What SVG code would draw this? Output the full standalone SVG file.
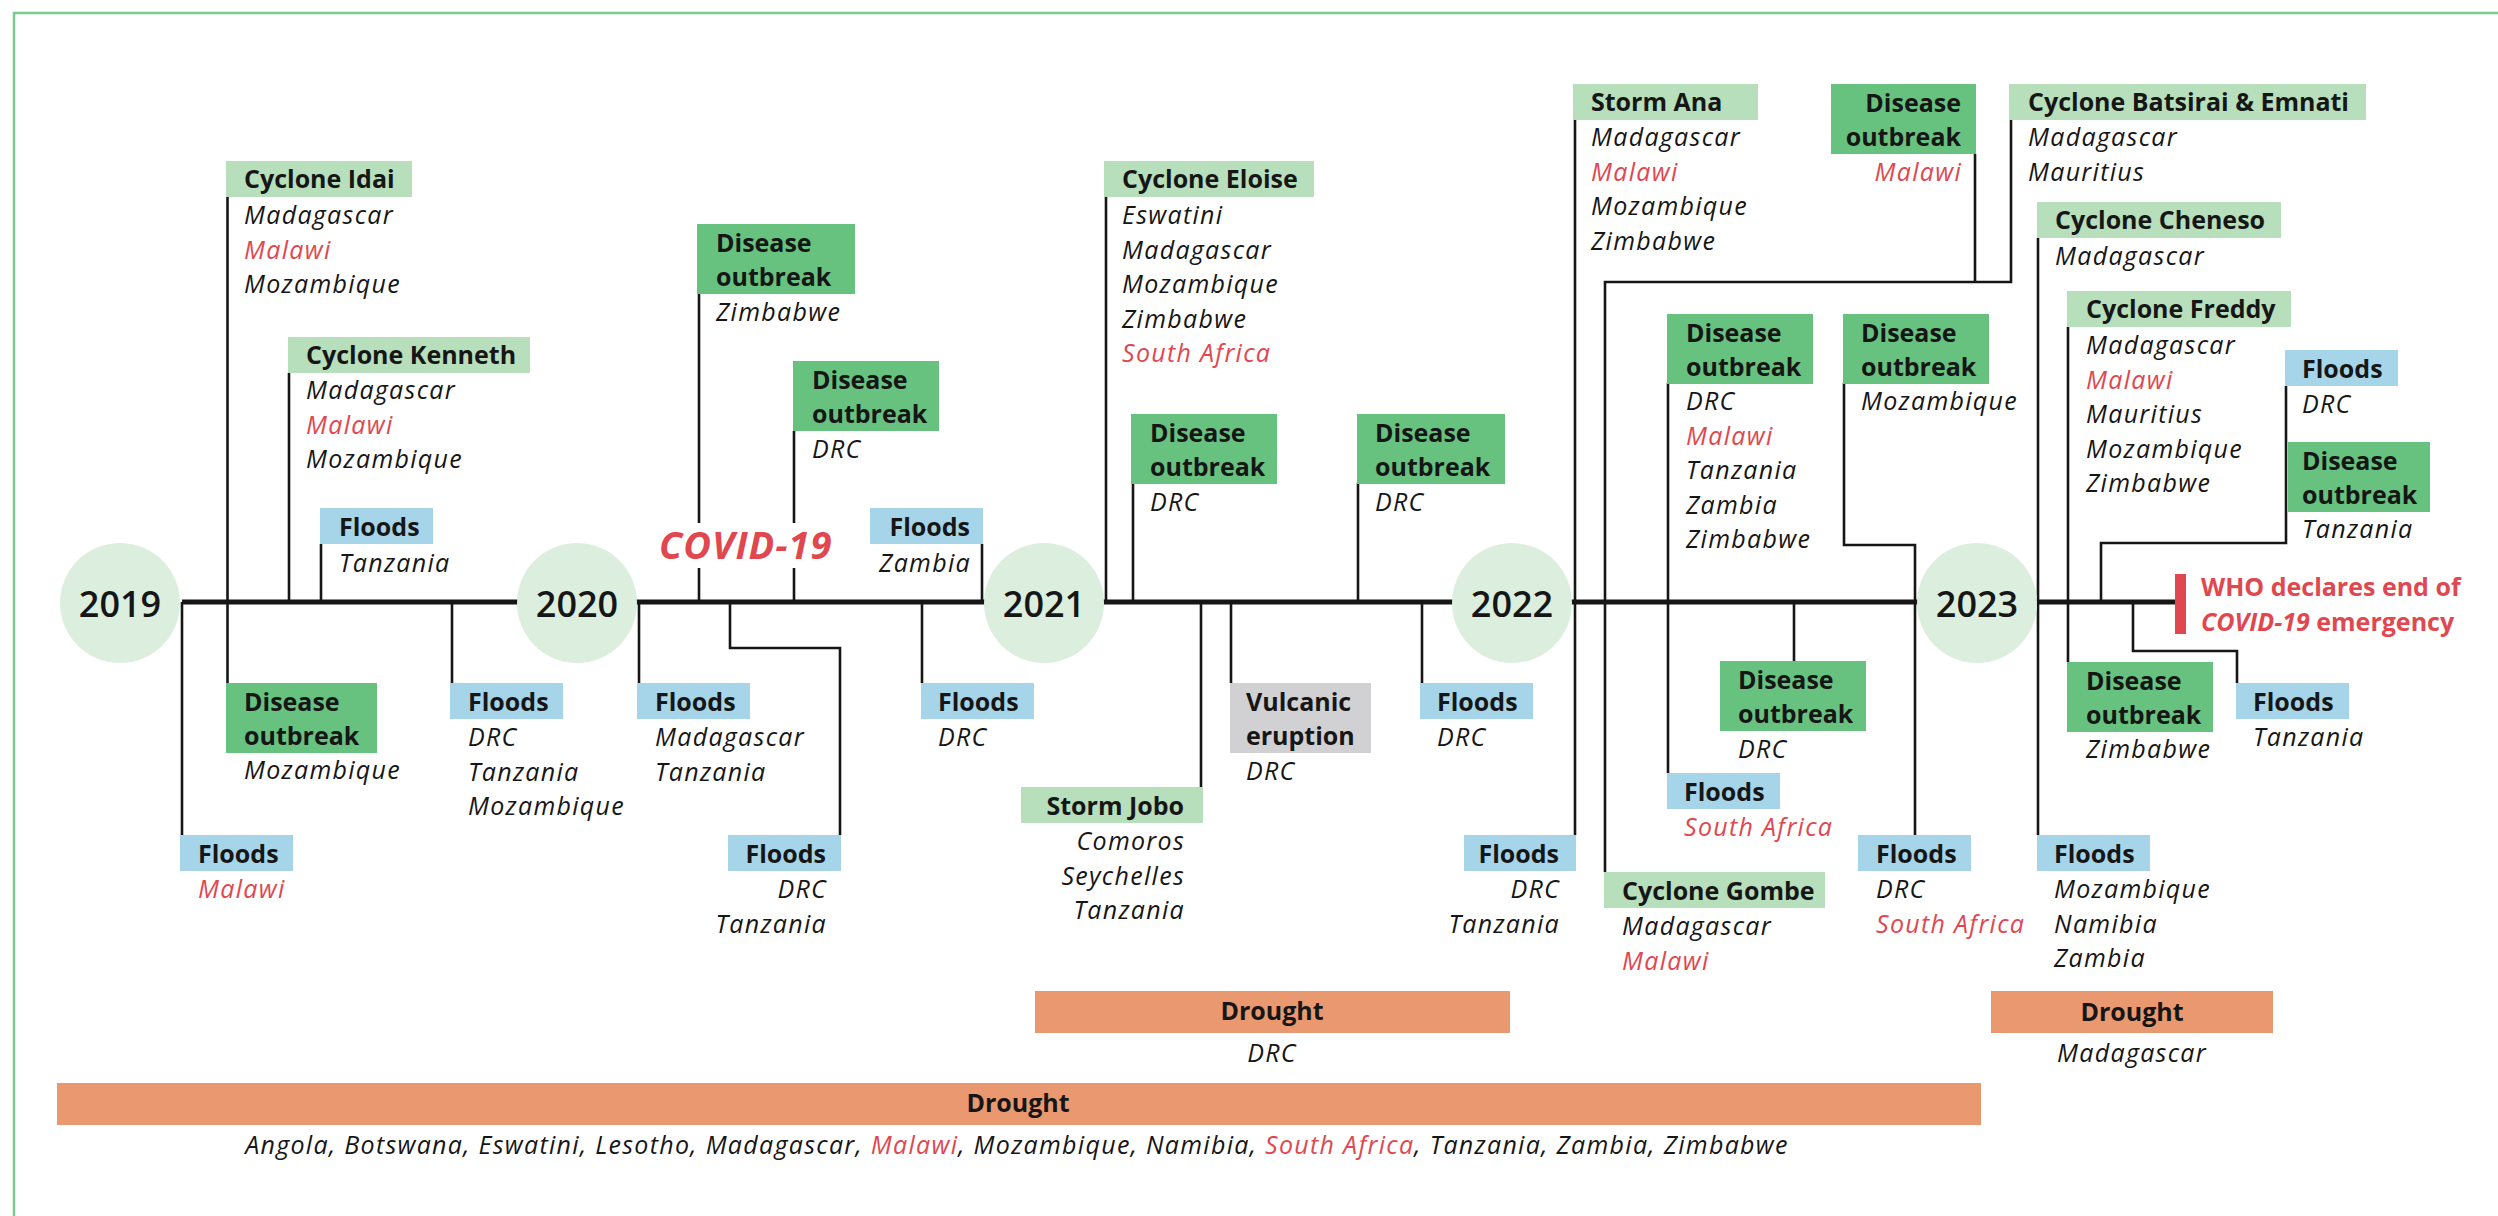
<svg xmlns="http://www.w3.org/2000/svg" width="2498" height="1216" viewBox="0 0 2498 1216">
<style>
  .cy{fill:#b8dfbb}.dz{fill:#67c27f}.fl{fill:#a6d5ea}.vo{fill:#d1d1d3}.dr{fill:#e9986f}
  text{fill:#161616;font-family:"Open Sans","Noto Sans",sans-serif}
  .t{font-size:25px;font-weight:700}
  .c{font-size:25px;font-style:italic;letter-spacing:1.3px}
  .e{text-anchor:end}.m{text-anchor:middle}
  .r{fill:#e0474f}
  .yr{font-size:36px;font-weight:600;text-anchor:middle}
  .cn{fill:none;stroke:#161616;stroke-width:2.6}
</style>
<rect width="2498" height="1216" fill="#fff"/>
<path d="M14,1216 V13 H2498" fill="none" stroke="#7ccb8e" stroke-width="2.5"/>

<g id="connectors" class="cn">
  <path d="M182,602 H2175" stroke-width="5"/>
  <path d="M227.5,197 V683"/>
  <path d="M289,373 V602"/>
  <path d="M321,544 V602"/>
  <path d="M182,602 V835"/>
  <path d="M452,602 V683"/>
  <path d="M639,602 V683"/>
  <path d="M699,294 V523 M699,568 V602"/>
  <path d="M794,431 V523 M794,568 V602"/>
  <path d="M982,544 V602"/>
  <path d="M922,602 V683"/>
  <path d="M730,602 V648 H840 V835"/>
  <path d="M1106,197 V602"/>
  <path d="M1133,483 V602"/>
  <path d="M1201,602 V787"/>
  <path d="M1231,602 V683"/>
  <path d="M1422,602 V683"/>
  <path d="M1358,483 V602"/>
  <path d="M1575,119 V835"/>
  <path d="M1975,154 V282"/>
  <path d="M2011,119 V282 H1605 V872"/>
  <path d="M1668,383 V773"/>
  <path d="M1844,383 V545 H1915 V835"/>
  <path d="M1794,602 V661"/>
  <path d="M2038,238 V835"/>
  <path d="M2068,327 V662"/>
  <path d="M2286,386 V543 H2101 V602"/>
  <path d="M2133,602 V651 H2237 V683"/>
</g>

<g id="years">
  <g id="y2019"><circle cx="120" cy="603" r="60" fill="#dcefdf"/><text class="yr" x="120" y="617">2019</text></g>
  <g id="y2020"><circle cx="577" cy="603" r="60" fill="#dcefdf"/><text class="yr" x="577" y="617">2020</text></g>
  <g id="y2021"><circle cx="1044" cy="603" r="60" fill="#dcefdf"/><text class="yr" x="1044" y="617">2021</text></g>
  <g id="y2022"><circle cx="1512" cy="603" r="60" fill="#dcefdf"/><text class="yr" x="1512" y="617">2022</text></g>
  <g id="y2023"><circle cx="1977" cy="603" r="60" fill="#dcefdf"/><text class="yr" x="1977" y="617">2023</text></g>
</g>

<g id="covid19"><text x="659" y="559" style="font-size:38px;font-weight:700;font-style:italic;letter-spacing:1px" class="r">COVID-19</text></g>

<g id="who-end">
  <rect x="2175" y="574" width="11" height="60" fill="#e0474f"/>
  <text class="r" x="2201" y="596" style="font-size:25px;font-weight:700">WHO declares end of</text>
  <text class="r" x="2201" y="631" style="font-size:25px;font-weight:700"><tspan class="r" font-style="italic">COVID-19</tspan> emergency</text>
</g>

<!-- 2019 -->
<g id="cyclone-idai"><rect class="cy" x="226" y="161" width="186" height="36"/><text class="t" x="244" y="188">Cyclone Idai</text>
  <text class="c" x="244" y="224">Madagascar<tspan class="r" x="244" dy="34.5">Malawi</tspan><tspan x="244" dy="34.5">Mozambique</tspan></text></g>
<g id="cyclone-kenneth"><rect class="cy" x="288" y="337" width="242" height="36"/><text class="t" x="306" y="364">Cyclone Kenneth</text>
  <text class="c" x="306" y="399">Madagascar<tspan class="r" x="306" dy="34.5">Malawi</tspan><tspan x="306" dy="34.5">Mozambique</tspan></text></g>
<g id="floods-2019-tz"><rect class="fl" x="320" y="508" width="113" height="36"/><text class="t" x="339" y="536">Floods</text>
  <text class="c" x="339" y="572">Tanzania</text></g>
<g id="disease-2019-moz"><rect class="dz" x="226" y="683" width="151" height="70"/><text class="t" x="244" y="711">Disease<tspan x="244" dy="34">outbreak</tspan></text>
  <text class="c" x="244" y="779">Mozambique</text></g>
<g id="floods-2019-mw"><rect class="fl" x="180" y="835" width="113" height="36"/><text class="t" x="198" y="863">Floods</text>
  <text class="c r" x="198" y="898">Malawi</text></g>
<g id="floods-2019-drc"><rect class="fl" x="450" y="683" width="113" height="36"/><text class="t" x="468" y="711">Floods</text>
  <text class="c" x="468" y="746">DRC<tspan x="468" dy="34.5">Tanzania</tspan><tspan x="468" dy="34.5">Mozambique</tspan></text></g>

<!-- 2020 -->
<g id="floods-2020-mg"><rect class="fl" x="637" y="683" width="113" height="36"/><text class="t" x="655" y="711">Floods</text>
  <text class="c" x="655" y="746">Madagascar<tspan x="655" dy="34.5">Tanzania</tspan></text></g>
<g id="disease-2020-zw"><rect class="dz" x="697" y="224" width="158" height="70"/><text class="t" x="716" y="252">Disease<tspan x="716" dy="34">outbreak</tspan></text>
  <text class="c" x="716" y="321">Zimbabwe</text></g>
<g id="disease-2020-drc"><rect class="dz" x="793" y="361" width="146" height="70"/><text class="t" x="812" y="389">Disease<tspan x="812" dy="34">outbreak</tspan></text>
  <text class="c" x="812" y="458">DRC</text></g>
<g id="floods-2020-zm"><rect class="fl" x="870" y="508" width="113" height="36"/><text class="t e" x="970" y="536">Floods</text>
  <text class="c e" x="971" y="572">Zambia</text></g>
<g id="floods-2020-drc"><rect class="fl" x="921" y="683" width="113" height="36"/><text class="t" x="938" y="711">Floods</text>
  <text class="c" x="938" y="746">DRC</text></g>
<g id="floods-2020-drc-tz"><rect class="fl" x="728" y="835" width="113" height="36"/><text class="t e" x="826" y="863">Floods</text>
  <text class="c e" x="827" y="898">DRC<tspan x="827" dy="34.5">Tanzania</tspan></text></g>

<!-- 2021 -->
<g id="cyclone-eloise"><rect class="cy" x="1104" y="161" width="210" height="36"/><text class="t" x="1122" y="188">Cyclone Eloise</text>
  <text class="c" x="1122" y="224">Eswatini<tspan x="1122" dy="34.5">Madagascar</tspan><tspan x="1122" dy="34.5">Mozambique</tspan><tspan x="1122" dy="34.5">Zimbabwe</tspan><tspan class="r" x="1122" dy="34.5">South Africa</tspan></text></g>
<g id="disease-2021-drc"><rect class="dz" x="1131" y="414" width="146" height="70"/><text class="t" x="1150" y="442">Disease<tspan x="1150" dy="34">outbreak</tspan></text>
  <text class="c" x="1150" y="511">DRC</text></g>
<g id="storm-jobo"><rect class="cy" x="1021" y="787" width="182" height="36"/><text class="t e" x="1184" y="815">Storm Jobo</text>
  <text class="c e" x="1185" y="850">Comoros<tspan x="1185" dy="34.5">Seychelles</tspan><tspan x="1185" dy="34.5">Tanzania</tspan></text></g>
<g id="volcanic-2021"><rect class="vo" x="1230" y="683" width="141" height="70"/><text class="t" x="1246" y="711">Vulcanic<tspan x="1246" dy="34">eruption</tspan></text>
  <text class="c" x="1246" y="780">DRC</text></g>
<g id="floods-2021-drc"><rect class="fl" x="1420" y="683" width="113" height="36"/><text class="t" x="1437" y="711">Floods</text>
  <text class="c" x="1437" y="746">DRC</text></g>
<g id="disease-2021b-drc"><rect class="dz" x="1357" y="414" width="148" height="70"/><text class="t" x="1375" y="442">Disease<tspan x="1375" dy="34">outbreak</tspan></text>
  <text class="c" x="1375" y="511">DRC</text></g>

<!-- 2022 -->
<g id="floods-2022-drc-tz"><rect class="fl" x="1464" y="835" width="112" height="36"/><text class="t e" x="1559" y="863">Floods</text>
  <text class="c e" x="1560" y="898">DRC<tspan x="1560" dy="34.5">Tanzania</tspan></text></g>
<g id="storm-ana"><rect class="cy" x="1573" y="84" width="185" height="36"/><text class="t" x="1591" y="111">Storm Ana</text>
  <text class="c" x="1591" y="146">Madagascar<tspan class="r" x="1591" dy="34.5">Malawi</tspan><tspan x="1591" dy="34.5">Mozambique</tspan><tspan x="1591" dy="34.5">Zimbabwe</tspan></text></g>
<g id="disease-2022-mw"><rect class="dz" x="1831" y="84" width="145" height="70"/><text class="t e" x="1961" y="112">Disease<tspan x="1961" dy="34">outbreak</tspan></text>
  <text class="c e r" x="1962" y="181">Malawi</text></g>
<g id="cyclone-batsirai-emnati"><rect class="cy" x="2009" y="84" width="357" height="36"/><text class="t" x="2028" y="111">Cyclone Batsirai &amp; Emnati</text>
  <text class="c" x="2028" y="146">Madagascar<tspan x="2028" dy="34.5">Mauritius</tspan></text></g>
<g id="disease-2022-multi"><rect class="dz" x="1667" y="314" width="146" height="70"/><text class="t" x="1686" y="342">Disease<tspan x="1686" dy="34">outbreak</tspan></text>
  <text class="c" x="1686" y="410">DRC<tspan class="r" x="1686" dy="34.5">Malawi</tspan><tspan x="1686" dy="34.5">Tanzania</tspan><tspan x="1686" dy="34.5">Zambia</tspan><tspan x="1686" dy="34.5">Zimbabwe</tspan></text></g>
<g id="floods-2022-za"><rect class="fl" x="1667" y="773" width="113" height="36"/><text class="t" x="1684" y="801">Floods</text>
  <text class="c r" x="1684" y="836">South Africa</text></g>
<g id="disease-2022-moz"><rect class="dz" x="1843" y="314" width="146" height="70"/><text class="t" x="1861" y="342">Disease<tspan x="1861" dy="34">outbreak</tspan></text>
  <text class="c" x="1861" y="410">Mozambique</text></g>
<g id="floods-2022-drc-za"><rect class="fl" x="1858" y="835" width="113" height="36"/><text class="t" x="1876" y="863">Floods</text>
  <text class="c" x="1876" y="898">DRC<tspan class="r" x="1876" dy="34.5">South Africa</tspan></text></g>
<g id="disease-2022b-drc"><rect class="dz" x="1720" y="661" width="146" height="70"/><text class="t" x="1738" y="689">Disease<tspan x="1738" dy="34">outbreak</tspan></text>
  <text class="c" x="1738" y="758">DRC</text></g>
<g id="cyclone-gombe"><rect class="cy" x="1604" y="872" width="221" height="36"/><text class="t" x="1622" y="900">Cyclone Gombe</text>
  <text class="c" x="1622" y="935">Madagascar<tspan class="r" x="1622" dy="34.5">Malawi</tspan></text></g>

<!-- 2023 -->
<g id="cyclone-cheneso"><rect class="cy" x="2037" y="202" width="244" height="36"/><text class="t" x="2055" y="229">Cyclone Cheneso</text>
  <text class="c" x="2055" y="265">Madagascar</text></g>
<g id="floods-2023-moz"><rect class="fl" x="2037" y="835" width="113" height="36"/><text class="t" x="2054" y="863">Floods</text>
  <text class="c" x="2054" y="898">Mozambique<tspan x="2054" dy="34.5">Namibia</tspan><tspan x="2054" dy="34.5">Zambia</tspan></text></g>
<g id="cyclone-freddy"><rect class="cy" x="2067" y="291" width="224" height="36"/><text class="t" x="2086" y="318">Cyclone Freddy</text>
  <text class="c" x="2086" y="354">Madagascar<tspan class="r" x="2086" dy="34.5">Malawi</tspan><tspan x="2086" dy="34.5">Mauritius</tspan><tspan x="2086" dy="34.5">Mozambique</tspan><tspan x="2086" dy="34.5">Zimbabwe</tspan></text></g>
<g id="disease-2023-zw"><rect class="dz" x="2067" y="662" width="146" height="70"/><text class="t" x="2086" y="690">Disease<tspan x="2086" dy="34">outbreak</tspan></text>
  <text class="c" x="2086" y="758">Zimbabwe</text></g>
<g id="floods-2023-drc"><rect class="fl" x="2285" y="350" width="113" height="36"/><text class="t" x="2302" y="378">Floods</text>
  <text class="c" x="2302" y="413">DRC</text></g>
<g id="disease-2023-tz"><rect class="dz" x="2288" y="442" width="142" height="70"/><text class="t" x="2302" y="470">Disease<tspan x="2302" dy="34">outbreak</tspan></text>
  <text class="c" x="2302" y="538">Tanzania</text></g>
<g id="floods-2023-tz"><rect class="fl" x="2236" y="683" width="113" height="36"/><text class="t" x="2253" y="711">Floods</text>
  <text class="c" x="2253" y="746">Tanzania</text></g>

<!-- droughts -->
<g id="drought-drc"><rect class="dr" x="1035" y="991" width="475" height="42"/><text class="t m" x="1272" y="1020">Drought</text>
  <text class="c m" x="1272" y="1062">DRC</text></g>
<g id="drought-mg"><rect class="dr" x="1991" y="991" width="282" height="42"/><text class="t m" x="2132" y="1021">Drought</text>
  <text class="c m" x="2132" y="1062">Madagascar</text></g>
<g id="drought-region"><rect class="dr" x="57" y="1083" width="1924" height="42"/><text class="t m" x="1018" y="1112">Drought</text>
  <text class="c m" x="1017" y="1154">Angola, Botswana, Eswatini, Lesotho, Madagascar, <tspan class="r">Malawi</tspan>, Mozambique, Namibia, <tspan class="r">South Africa</tspan>, Tanzania, Zambia, Zimbabwe</text></g>
</svg>
